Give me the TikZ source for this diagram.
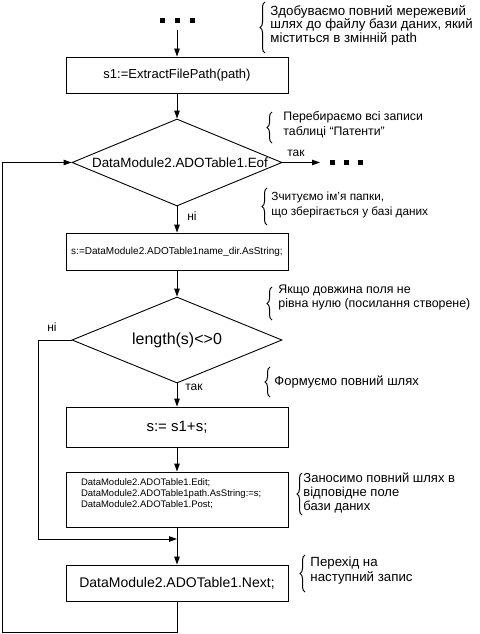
\documentclass[tikz,border=0pt]{standalone}
\usepackage{fontspec}
\setmainfont{Liberation Sans}
\usetikzlibrary{shapes.geometric,arrows.meta,decorations.pathreplacing}
\newcommand{\fs}[1]{\fontsize{#1}{#1}\selectfont}
\begin{document}
\begin{tikzpicture}[x=1pt,y=1pt,
  line width=0.9pt,
  box/.style={draw, rectangle, minimum width=222pt, inner sep=0pt},
  dia/.style={draw, diamond, minimum width=210pt, minimum height=87pt, inner sep=0pt},
  arr/.style={-{Triangle[length=8pt,width=5.5pt]}},
  note/.style={anchor=north west, inner sep=0pt, align=left},
  lbl/.style={inner sep=0pt, font=\fontsize{12}{14}\selectfont},
  brc/.style={decorate, decoration={brace, amplitude=5pt}, line width=1pt},
  dot/.style={fill, rectangle, minimum size=5pt, inner sep=0pt}
]
\useasboundingbox (0,0) rectangle (479,-634);

% top dots
\node[dot] (t1) at (162,-21) {};
\node[dot] (t2) at (177,-21) {};
\node[dot] (t3) at (192,-21) {};
\coordinate (c0) at (177,-30);

% boxes and decisions
\node[box, minimum height=36pt, font=\fs{13}] (b1) at (177,-75) {s1:=ExtractFilePath(path)};
\node[dia, label={[font=\fs{13.4}, xshift=3pt]center:DataModule2.ADOTable1.Eof}] (d1) at (177,-162.5) {};
\node[box, minimum height=37pt, font=\fs{10}] (b2) at (177,-251.5) {s:=DataModule2.ADOTable1name\_dir.AsString;};
\node[dia, minimum height=86pt, label={[font=\fs{16}]center:length(s)<>0}] (d2) at (177,-340) {};
\node[box, minimum height=40pt, font=\fs{15}] (b3) at (177,-427) {s:= s1+s;};
\node[box, minimum height=55pt, text width=192pt, inner xsep=15pt, align=left, font=\fontsize{9.5}{11}\selectfont] (b4) at (177,-499.5)
  {DataModule2.ADOTable1.Edit;\\DataModule2.ADOTable1path.AsString:=s;\\DataModule2.ADOTable1.Post;\rule[-12pt]{0pt}{0pt}};
\node[box, minimum height=36pt, font=\fs{14}] (b5) at (177,-583) {DataModule2.ADOTable1.Next;};

% right dots
\coordinate (c1) at (320,-162.5);
\node[dot] (r1) at (332,-162.5) {};
\node[dot] (r2) at (346,-162.5) {};
\node[dot] (r3) at (360,-162.5) {};

\coordinate (j) at (177,-539);
\coordinate (lb) at (2,-632);

% connectors
\draw[arr] (c0) -- (b1);
\draw[arr] (b1) -- (d1);
\draw[arr] (d1.east) -- (c1);
\draw[arr] (d1) -- (b2);
\draw[arr] (b2) -- (d2);
\draw[arr] (d2) -- (b3);
\draw[arr] (b3) -- (b4);
\draw (b4) -- (j);
\draw[arr] (j) -- (b5);
\draw[arr] (d2.west) -- ++(-33,0) |- (j);
\draw[arr] (b5.south) |- (lb) |- (d1.west);

% connector labels
\node[lbl] (l1) at (296,-153) {так};
\node[lbl] (l2) at (192,-216) {ні};
\node[lbl] (l3) at (52,-327) {ні};
\node[lbl] (l4) at (194,-387) {так};

% notes
\node[note, font=\fontsize{13.3}{13.5}\selectfont] (n1) at (270,-5) {Здобуваємо повний мережевий\\шлях до файлу бази даних, який\\міститься в змінній path};
\node[note, font=\fontsize{12.3}{15}\selectfont] (n2) at (283,-111) {Перебираємо всі записи\\таблиці “Патенти”};
\node[note, font=\fontsize{11.8}{15}\selectfont] (n3) at (271,-191) {Зчитуємо ім’я папки,\\що зберігається у базі даних};
\node[note, font=\fontsize{12.4}{14}\selectfont] (n4) at (278,-285) {Якщо довжина поля не\\рівна нулю (посилання створене)};
\node[note, font=\fontsize{13}{14}\selectfont] (n5) at (274,-375) {Формуємо повний шлях};
\node[note, font=\fontsize{13}{14}\selectfont] (n6) at (303,-472) {Заносимо повний шлях в\\відповідне поле\\бази даних};
\node[note, font=\fontsize{13.3}{15}\selectfont] (n7) at (310,-556) {Перехід на\\наступний запис};

% braces
\draw[brc] (265,-53) -- (265,-2);
\draw[brc] (272,-143) -- (272,-112);
\draw[brc] (267,-225) -- (267,-188);
\draw[brc] (272,-320) -- (272,-287);
\draw[brc] (270,-397) -- (270,-367);
\draw[brc] (302,-515) -- (302,-473);
\draw[brc] (305,-592) -- (305,-555);
\end{tikzpicture}
\end{document}
